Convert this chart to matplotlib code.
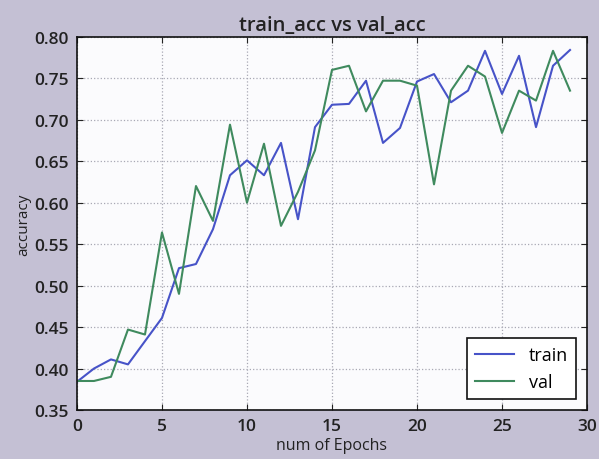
import numpy as np
import matplotlib
matplotlib.use('Agg')
import matplotlib.pyplot as plt

# accuracy per epoch
epochs = np.arange(30)
train_acc = [0.384, 0.400, 0.411, 0.405, 0.433, 0.461, 0.521, 0.526, 0.568, 0.633,
             0.651, 0.633, 0.672, 0.580, 0.691, 0.718, 0.719, 0.747, 0.672, 0.690,
             0.746, 0.755, 0.721, 0.735, 0.783, 0.731, 0.777, 0.691, 0.765, 0.784]
val_acc = [0.385, 0.385, 0.390, 0.447, 0.441, 0.564, 0.490, 0.620, 0.578, 0.694,
           0.600, 0.671, 0.572, 0.613, 0.663, 0.760, 0.765, 0.710, 0.747, 0.747,
           0.741, 0.622, 0.735, 0.765, 0.752, 0.684, 0.735, 0.723, 0.783, 0.735]

plt.rcParams['font.family'] = ['Open Sans', 'DejaVu Sans']
plt.rcParams['font.weight'] = 'semibold'

fig = plt.figure(figsize=(5.99, 4.60), dpi=100, facecolor='#c4c0d4')
ax = fig.add_axes([0.1285, 0.1065, 0.8515, 0.8115])
ax.set_facecolor('#fbfbfd')

ax.plot(epochs, train_acc, color='#4753c8', lw=1.5, label='train')
ax.plot(epochs, val_acc, color='#3f8a5e', lw=1.5, label='val')

ax.set_xlim(0, 30)
ax.set_ylim(0.35, 0.80)
ax.set_xticks(np.arange(0, 31, 5))
ax.set_yticks(np.arange(0.35, 0.801, 0.05))
ax.set_yticklabels(['%.2f' % v for v in np.arange(0.35, 0.801, 0.05)])
ax.tick_params(direction='in', top=True, right=True, length=4, labelsize=12.5,
               colors='#222222', pad=6)
ax.grid(True, color='#a8a8b4', linestyle=':', linewidth=0.9)
for s in ax.spines.values():
    s.set_color('#111111')
    s.set_linewidth(1.2)

ax.set_title('train_acc vs val_acc', fontsize=14.5, color='#222222', pad=5,
             fontweight='semibold')
ax.set_xlabel('num of Epochs', fontsize=11.5, color='#222222', labelpad=2)
ax.set_ylabel('accuracy', fontsize=11, color='#222222', labelpad=2)

leg = ax.legend(loc='lower right', prop={'size': 13, 'weight': 'normal'},
                fancybox=False, framealpha=1, edgecolor='#111111',
                handlelength=2.2, borderpad=0.45, borderaxespad=0.6)
leg.get_frame().set_linewidth(1.2)

fig.savefig('out.png', dpi=100, facecolor=fig.get_facecolor())
